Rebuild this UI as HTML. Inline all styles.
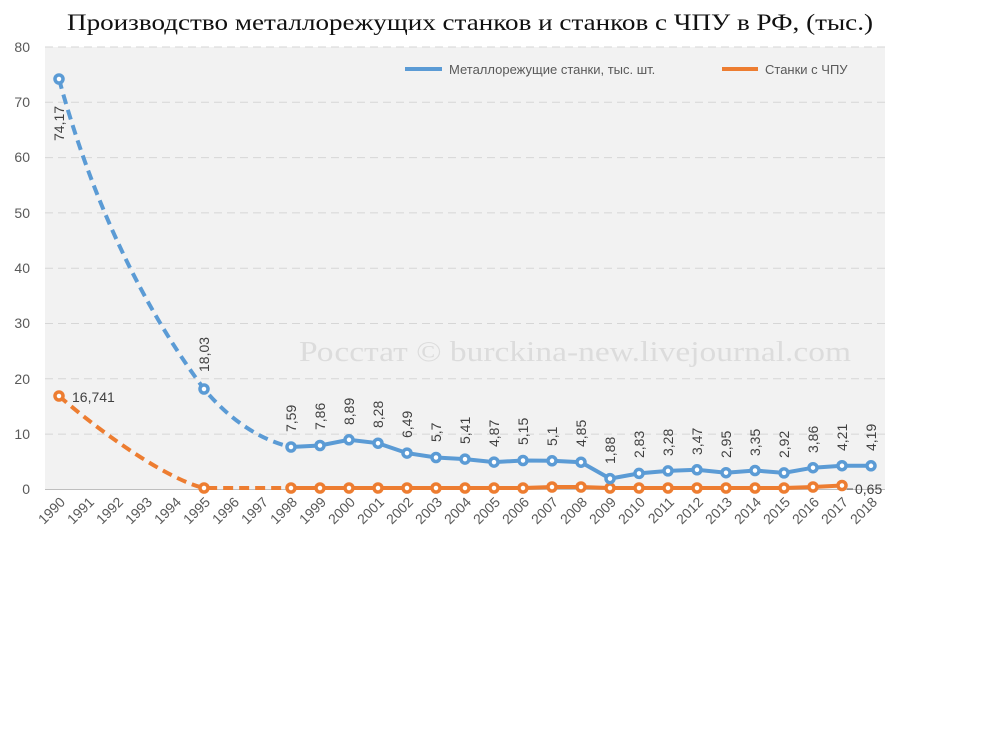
<!DOCTYPE html>
<html><head><meta charset="utf-8"><style>
body{margin:0;background:#fff;width:1006px;height:729px;overflow:hidden}
</style></head><body>
<svg width="1006" height="729" xmlns="http://www.w3.org/2000/svg" font-family="Liberation Sans, sans-serif">
<text x="67" y="30" textLength="806" lengthAdjust="spacingAndGlyphs" font-family="Liberation Serif, serif" font-size="23" fill="#111">Производство металлорежущих станков и станков с ЧПУ в РФ, (тыс.)</text>
<rect x="45" y="47" width="840" height="442" fill="#f2f2f2"/>
<g stroke="#d6d6d6" stroke-width="1" stroke-dasharray="8,5">
<line x1="45" x2="885" y1="47" y2="47"/><line x1="45" x2="885" y1="102.3" y2="102.3"/>
<line x1="45" x2="885" y1="157.6" y2="157.6"/><line x1="45" x2="885" y1="212.9" y2="212.9"/>
<line x1="45" x2="885" y1="268.2" y2="268.2"/><line x1="45" x2="885" y1="323.5" y2="323.5"/>
<line x1="45" x2="885" y1="378.8" y2="378.8"/><line x1="45" x2="885" y1="434.1" y2="434.1"/>
</g>
<line x1="45" x2="885" y1="489.5" y2="489.5" stroke="#bfbfbf"/>
<g font-size="14" fill="#595959" text-anchor="end">
<text x="30" y="52">80</text><text x="30" y="107">70</text><text x="30" y="162">60</text><text x="30" y="218">50</text>
<text x="30" y="273">40</text><text x="30" y="328">30</text><text x="30" y="384">20</text><text x="30" y="439">10</text><text x="30" y="494">0</text>
</g>
<g font-size="14" fill="#595959" text-anchor="end">
<text transform="translate(66,503) rotate(-45)">1990</text><text transform="translate(95,503) rotate(-45)">1991</text>
<text transform="translate(124,503) rotate(-45)">1992</text><text transform="translate(153,503) rotate(-45)">1993</text>
<text transform="translate(182,503) rotate(-45)">1994</text><text transform="translate(211,503) rotate(-45)">1995</text>
<text transform="translate(240,503) rotate(-45)">1996</text><text transform="translate(269,503) rotate(-45)">1997</text>
<text transform="translate(298,503) rotate(-45)">1998</text><text transform="translate(327,503) rotate(-45)">1999</text>
<text transform="translate(356,503) rotate(-45)">2000</text><text transform="translate(385,503) rotate(-45)">2001</text>
<text transform="translate(414,503) rotate(-45)">2002</text><text transform="translate(443,503) rotate(-45)">2003</text>
<text transform="translate(472,503) rotate(-45)">2004</text><text transform="translate(501,503) rotate(-45)">2005</text>
<text transform="translate(530,503) rotate(-45)">2006</text><text transform="translate(559,503) rotate(-45)">2007</text>
<text transform="translate(588,503) rotate(-45)">2008</text><text transform="translate(617,503) rotate(-45)">2009</text>
<text transform="translate(646,503) rotate(-45)">2010</text><text transform="translate(675,503) rotate(-45)">2011</text>
<text transform="translate(704,503) rotate(-45)">2012</text><text transform="translate(733,503) rotate(-45)">2013</text>
<text transform="translate(762,503) rotate(-45)">2014</text><text transform="translate(791,503) rotate(-45)">2015</text>
<text transform="translate(820,503) rotate(-45)">2016</text><text transform="translate(849,503) rotate(-45)">2017</text>
<text transform="translate(878,503) rotate(-45)">2018</text>
</g>
<text x="299" y="361" textLength="552" lengthAdjust="spacingAndGlyphs" font-family="Liberation Serif, serif" font-size="28" fill="#dcdcdc">Росстат © burckina-new.livejournal.com</text>
<line x1="405" x2="442" y1="69" y2="69" stroke="#5b9bd5" stroke-width="4"/>
<text x="449" y="74" font-size="13" fill="#595959">Металлорежущие станки, тыс. шт.</text>
<line x1="722" x2="758" y1="69" y2="69" stroke="#ed7d31" stroke-width="4"/>
<text x="765" y="74" font-size="13" fill="#595959">Станки с ЧПУ</text>
<path d="M59,79 C100,230 160,330 204,389 C230,420 260,440 291,447" fill="none" stroke="#5b9bd5" stroke-width="4" stroke-dasharray="10,6"/>
<path d="M59,396 C110,440 170,480 204,488 L291,488" fill="none" stroke="#ed7d31" stroke-width="4" stroke-dasharray="10,6"/>
<polyline fill="none" stroke="#ed7d31" stroke-width="4" points="291,488 320,488 349,488 378,488 407,488 436,488 465,488 494,488 523,488 552,487 581,487 610,488 639,488 668,488 697,488 726,488 755,488 784,488 813,487 842,485.5"/>
<polyline fill="none" stroke="#5b9bd5" stroke-width="4" points="291,447 320,445.5 349,439.8 378,443.2 407,453.1 436,457.5 465,459.1 494,462.1 523,460.5 552,460.8 581,462.2 610,478.6 639,473.4 668,470.9 697,469.8 726,472.7 755,470.5 784,472.9 813,467.7 842,465.7 871,465.8"/>
<g fill="#fff" stroke="#ed7d31" stroke-width="3.5">
<circle cx="59" cy="396" r="4"/><circle cx="204" cy="488" r="4"/>
<circle cx="291" cy="488" r="4"/><circle cx="320" cy="488" r="4"/><circle cx="349" cy="488" r="4"/><circle cx="378" cy="488" r="4"/><circle cx="407" cy="488" r="4"/><circle cx="436" cy="488" r="4"/><circle cx="465" cy="488" r="4"/><circle cx="494" cy="488" r="4"/><circle cx="523" cy="488" r="4"/><circle cx="552" cy="487" r="4"/><circle cx="581" cy="487" r="4"/><circle cx="610" cy="488" r="4"/><circle cx="639" cy="488" r="4"/><circle cx="668" cy="488" r="4"/><circle cx="697" cy="488" r="4"/><circle cx="726" cy="488" r="4"/><circle cx="755" cy="488" r="4"/><circle cx="784" cy="488" r="4"/><circle cx="813" cy="487" r="4"/><circle cx="842" cy="485.5" r="4"/>
</g>
<g fill="#fff" stroke="#5b9bd5" stroke-width="3.5">
<circle cx="59" cy="79" r="4"/><circle cx="204" cy="389" r="4"/>
<circle cx="291" cy="447" r="4"/><circle cx="320" cy="445.5" r="4"/><circle cx="349" cy="439.8" r="4"/><circle cx="378" cy="443.2" r="4"/><circle cx="407" cy="453.1" r="4"/><circle cx="436" cy="457.5" r="4"/><circle cx="465" cy="459.1" r="4"/><circle cx="494" cy="462.1" r="4"/><circle cx="523" cy="460.5" r="4"/><circle cx="552" cy="460.8" r="4"/><circle cx="581" cy="462.2" r="4"/><circle cx="610" cy="478.6" r="4"/><circle cx="639" cy="473.4" r="4"/><circle cx="668" cy="470.9" r="4"/><circle cx="697" cy="469.8" r="4"/><circle cx="726" cy="472.7" r="4"/><circle cx="755" cy="470.5" r="4"/><circle cx="784" cy="472.9" r="4"/><circle cx="813" cy="467.7" r="4"/><circle cx="842" cy="465.7" r="4"/><circle cx="871" cy="465.8" r="4"/>
</g>
<g font-size="14" fill="#404040">
<text transform="translate(64,141) rotate(-90)">74,17</text>
<text transform="translate(209,372) rotate(-90)">18,03</text>
<text transform="translate(296,432) rotate(-90)">7,59</text><text transform="translate(325,430) rotate(-90)">7,86</text>
<text transform="translate(354,425) rotate(-90)">8,89</text><text transform="translate(383,428) rotate(-90)">8,28</text>
<text transform="translate(412,438) rotate(-90)">6,49</text><text transform="translate(441,442) rotate(-90)">5,7</text>
<text transform="translate(470,444) rotate(-90)">5,41</text><text transform="translate(499,447) rotate(-90)">4,87</text>
<text transform="translate(528,445) rotate(-90)">5,15</text><text transform="translate(557,446) rotate(-90)">5,1</text>
<text transform="translate(586,447) rotate(-90)">4,85</text><text transform="translate(615,464) rotate(-90)">1,88</text>
<text transform="translate(644,458) rotate(-90)">2,83</text><text transform="translate(673,456) rotate(-90)">3,28</text>
<text transform="translate(702,455) rotate(-90)">3,47</text><text transform="translate(731,458) rotate(-90)">2,95</text>
<text transform="translate(760,456) rotate(-90)">3,35</text><text transform="translate(789,458) rotate(-90)">2,92</text>
<text transform="translate(818,453) rotate(-90)">3,86</text><text transform="translate(847,451) rotate(-90)">4,21</text>
<text transform="translate(876,451) rotate(-90)">4,19</text>
<text x="72" y="402">16,741</text>
<line x1="847" x2="853" y1="489" y2="489" stroke="#595959"/>
<text x="855" y="494">0,65</text>
</g>
</svg>
</body></html>
